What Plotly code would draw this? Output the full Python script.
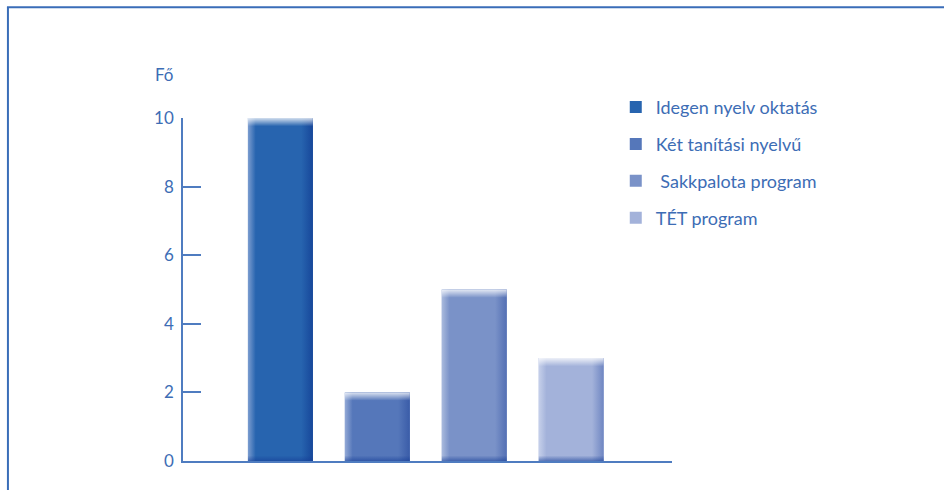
import plotly.graph_objects as go

# Data
categories = ["Idegen nyelv oktatás", "Két tanítási nyelvű", " Sakkpalota program", "TÉT program"]
values = [10, 2, 5, 3]
bar_colors = ["#2764AF", "#5577BA", "#7A92C8", "#A3B2DA"]
edge_light = ["#7C9DD0", "#93A9D6", "#A9BADD", "#C6D0EA"]
edge_dark = ["#17479A", "#3A5CA8", "#5470B4", "#6F86C2"]
y_ticks = [0, 2, 4, 6, 8, 10]

TEXT = "#3D6DB5"
FONT = "Lato, 'Open Sans', sans-serif"
BAR_W = 0.67
TOP_BAND = 0.24
BOTTOM_BAND = 0.16

fig = go.Figure()

# Base bars (one trace per programme so each gets a legend entry)
for i, (name, v, c) in enumerate(zip(categories, values, bar_colors)):
    fig.add_trace(go.Bar(
        x=[i], y=[v], width=BAR_W, name=name, legendgroup=f"g{i}",
        marker=dict(color=c, line=dict(width=0)),
        hoverinfo="skip",
    ))


def rect(i, y0, y1):
    x0, x1 = i - BAR_W / 2, i + BAR_W / 2
    return [x0, x1, x1, x0, x0], [y0, y0, y1, y1, y0]


# Bevel shading laid over each bar
for i, v in enumerate(values):
    xs, ys = rect(i, 0, v)
    fig.add_trace(go.Scatter(
        x=xs, y=ys, mode="lines", line=dict(width=0), fill="toself",
        fillgradient=dict(type="horizontal", colorscale=[
            [0, edge_light[i]], [0.12, bar_colors[i]], [0.82, bar_colors[i]], [1, edge_dark[i]]]),
        showlegend=False, hoverinfo="skip", legendgroup=f"g{i}",
    ))
    xs, ys = rect(i, v - TOP_BAND, v)
    fig.add_trace(go.Scatter(
        x=xs, y=ys, mode="lines", line=dict(width=0), fill="toself",
        fillgradient=dict(type="vertical", colorscale=[
            [0, "rgba(255,255,255,0)"], [1, "rgba(255,255,255,0.8)"]]),
        showlegend=False, hoverinfo="skip", legendgroup=f"g{i}",
    ))
    xs, ys = rect(i, 0, BOTTOM_BAND)
    fig.add_trace(go.Scatter(
        x=xs, y=ys, mode="lines", line=dict(width=0), fill="toself",
        fillgradient=dict(type="vertical", colorscale=[
            [0, "rgba(20,60,150,0.55)"], [1, "rgba(20,60,150,0)"]]),
        showlegend=False, hoverinfo="skip", legendgroup=f"g{i}",
    ))

fig.update_layout(
    width=944, height=490,
    margin=dict(l=183, r=272, t=118, b=29),
    paper_bgcolor="white", plot_bgcolor="white",
    font=dict(family=FONT, color=TEXT, size=17),
    barmode="overlay",
    showlegend=True,
    legend=dict(
        x=0.885, y=1.085, xanchor="left", yanchor="top",
        font=dict(family=FONT, size=18, color=TEXT),
        traceorder="grouped", tracegroupgap=10.5,
        itemsizing="constant", bgcolor="rgba(0,0,0,0)",
    ),
    xaxis=dict(
        range=[-1.005, 4.04], showgrid=False, zeroline=False,
        showticklabels=False, ticks="",
        showline=True, linecolor="#4F7CC0", linewidth=1.5,
    ),
    yaxis=dict(
        range=[0, 10], tickvals=y_ticks, showgrid=False, zeroline=False,
        showline=True, linecolor="#4F7CC0", linewidth=1.5,
        ticks="inside", ticklen=18, tickcolor="#4F7CC0", tickwidth=1.5,
        tickfont=dict(family=FONT, size=17, color=TEXT),
        ticklabelstandoff=4,
    ),
    annotations=[dict(
        text="Fő", xref="paper", yref="paper", x=-0.037, y=1.126,
        xanchor="center", yanchor="middle", showarrow=False,
        font=dict(family=FONT, size=17, color=TEXT),
    )],
    shapes=[
        dict(type="line", xref="paper", yref="paper", x0=-0.36, x1=1.6,
             y0=1.323, y1=1.323, line=dict(color="#3A6DB8", width=2)),
        dict(type="line", xref="paper", yref="paper", x0=-0.358, x1=-0.358,
             y0=1.323, y1=-0.1, line=dict(color="#3A6DB8", width=2)),
    ],
)

fig.write_html("out.html")
